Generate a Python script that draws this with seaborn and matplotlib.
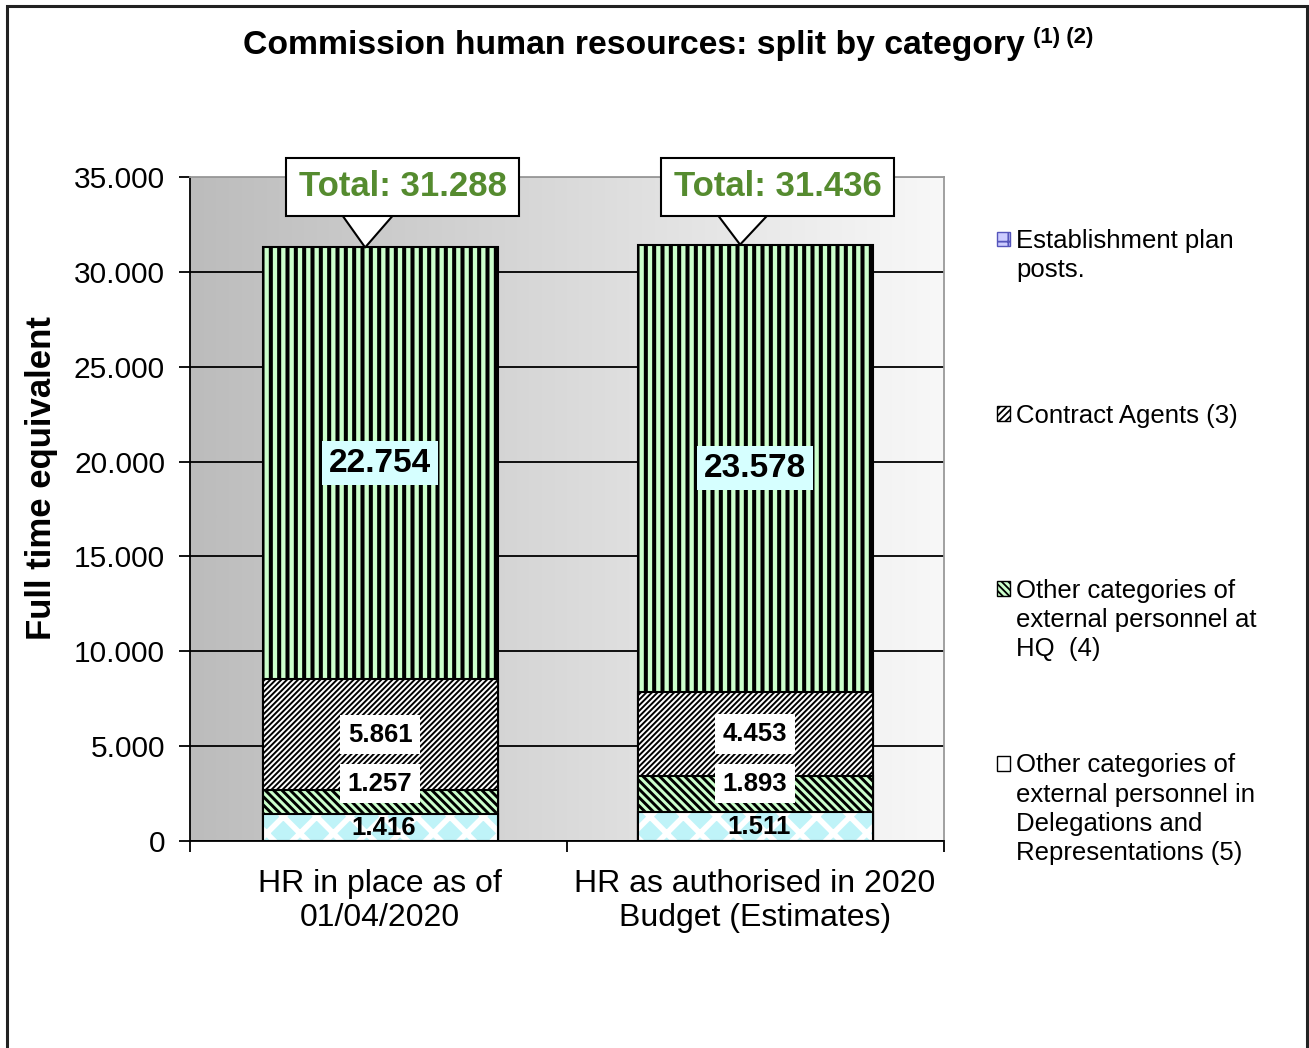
import numpy as np
import pandas as pd
import matplotlib.pyplot as plt
import seaborn as sns
from matplotlib.colors import LinearSegmentedColormap
from matplotlib.patches import Patch, Rectangle
from matplotlib.ticker import FuncFormatter

# data
categories = ["HR in place as of\n01/04/2020", "HR as authorised in 2020\nBudget (Estimates)"]
establishment = [22754, 23578]
contract_agents = [5861, 4453]
external_hq = [1257, 1893]
external_delegations = [1416, 1511]
totals = [31288, 31436]

series_names = [
    "Establishment plan\nposts.",
    "Contract Agents (3)",
    "Other categories of\nexternal personnel at\nHQ  (4)",
    "Other categories of\nexternal personnel in\nDelegations and\nRepresentations (5)",
]
y_ticks = [0, 5000, 10000, 15000, 20000, 25000, 30000, 35000]

sns.set_style("ticks")
plt.rcParams['font.family'] = ['Liberation Sans', 'DejaVu Sans']
plt.rcParams['text.color'] = 'black'
plt.rcParams['axes.labelcolor'] = 'black'
plt.rcParams['xtick.color'] = 'black'
plt.rcParams['ytick.color'] = 'black'


def fmt(v):
    return f"{int(round(v)):,}".replace(",", ".")


df = pd.DataFrame({
    "category": categories,
    "est": establishment,
    "ca": contract_agents,
    "hq": external_hq,
    "dl": external_delegations,
})
# cumulative heights, drawn tallest first so lower layers cover them
df["cum_dl"] = df["dl"]
df["cum_hq"] = df["cum_dl"] + df["hq"]
df["cum_ca"] = df["cum_hq"] + df["ca"]
df["cum_est"] = df["cum_ca"] + df["est"]

fig = plt.figure(figsize=(13.09, 10.48), dpi=100)
ax = fig.add_axes([0.1452, 0.1975, 0.576, 0.6336])

# grey-to-white gradient plot area
grad = np.linspace(0, 1, 256).reshape(1, -1)
cmap = LinearSegmentedColormap.from_list("bg", ["#bcbcbc", "#f8f8f8"])
ax.imshow(grad, cmap=cmap, extent=[0, 1, 0, 1], transform=ax.transAxes,
          aspect='auto', zorder=0)

layers = [
    ("cum_est", "#ccffcc", "black", "||", 2.9),
    ("cum_ca", "white", "black", "//////", 1.4),
    ("cum_hq", "#ccffcc", "black", "\\\\\\\\", 2.1),
    ("cum_dl", "#bff3f8", "white", "x", 4.0),
]
bar_w = 0.627
for col, fc, hc, hatch, hlw in layers:
    plt.rcParams['hatch.linewidth'] = hlw
    n_before = len(ax.patches)
    sns.barplot(data=df, x="category", y=col, color=fc, saturation=1,
                edgecolor=hc, linewidth=1.5, hatch=hatch, width=bar_w,
                ax=ax, zorder=2)
    for p in ax.patches[n_before:]:
        if hasattr(p, "set_hatch_linewidth"):
            p.set_hatch_linewidth(hlw)

# black outline for the bottom (white-hatched) segments
for p in ax.patches[-2:]:
    ax.add_patch(Rectangle(p.get_xy(), p.get_width(), p.get_height(),
                           fill=False, ec='black', lw=1.5, zorder=3))

ax.set_xlim(-0.507, 1.504)
ax.set_ylim(0, 35000)
ax.set_yticks(y_ticks)
ax.yaxis.set_major_formatter(FuncFormatter(lambda v, p: fmt(v)))
ax.set_xticks([0, 1])
ax.set_xticklabels(categories)
ax.set_xticks([-0.507, 0.4985, 1.504], minor=True)
ax.grid(axis='y', color='black', lw=1.3)
ax.yaxis.get_gridlines()[-1].set_color('#999999')
ax.set_axisbelow(True)

ax.tick_params(axis='x', which='major', length=0, pad=20, labelsize=23)
ax.tick_params(axis='x', which='minor', length=8, width=1.3, color='black')
ax.tick_params(axis='y', length=8, width=1.3, color='black', pad=10, labelsize=21.5)
ax.set_xlabel("")
ax.set_ylabel("Full time equivalent", fontsize=25, fontweight='bold')
ax.yaxis.set_label_coords(-0.175, 0.547)

for side in ["left", "bottom"]:
    ax.spines[side].set_color('black')
    ax.spines[side].set_linewidth(1.3)
for side in ["top", "right"]:
    ax.spines[side].set_color('#999999')
    ax.spines[side].set_linewidth(1.3)

# segment value labels
for i in range(len(categories)):
    ax.text(i, df.cum_ca[i] + df.est[i] / 2, fmt(df.est[i]), ha='center', va='center',
            fontsize=24, fontweight='bold', zorder=6,
            bbox=dict(boxstyle='square,pad=0.2', fc='#d6ffff', ec='none'))
    ax.text(i, df.cum_hq[i] + df.ca[i] / 2, fmt(df.ca[i]), ha='center', va='center',
            fontsize=18.5, fontweight='bold', zorder=6,
            bbox=dict(boxstyle='square,pad=0.3', fc='white', ec='none'))
    ax.text(i, 3030, fmt(df.hq[i]), ha='center', va='center',
            fontsize=18.5, fontweight='bold', zorder=6,
            bbox=dict(boxstyle='square,pad=0.3', fc='white', ec='none'))
    ax.text(i + 0.01, df.dl[i] / 2, fmt(df.dl[i]), ha='center', va='center',
            fontsize=18.5, fontweight='bold', zorder=6)

    # total callouts
    ax.annotate(f"Total: {fmt(totals[i])}", xy=(i - 0.04, totals[i]),
                xytext=(i + 0.06, 34480), ha='center', va='center',
                fontsize=25, fontweight='bold', color='#558b2f',
                bbox=dict(boxstyle='square,pad=0.36', fc='white', ec='black', lw=1.5),
                arrowprops=dict(arrowstyle='wedge,tail_width=2.0,shrink_factor=0.5',
                                fc='white', ec='black', lw=1.5, relpos=(0.33, 0.0),
                                patchA=None, shrinkA=0, shrinkB=0),
                annotation_clip=False, zorder=7)

# title with superscript notes
fig.text(0.4843, 0.957, "Commission human resources: split by category",
         ha='center', va='center', fontsize=24.3, fontweight='bold')
fig.text(1033 / 1309, 1 - 38 / 1048, "(1) (2)", ha='left', va='center',
         fontsize=16, fontweight='bold')

# legend: one row per text line so entries sit in even slots like the original
legend_handles = [
    Patch(fc='#ccccff', ec='#5555bb', hatch='+'),
    Patch(fc='white', ec='black', hatch='/////'),
    Patch(fc='#ccffcc', ec='black', hatch='\\\\\\\\\\'),
    Patch(fc='white', ec='black'),
]
blank = Patch(fc='none', ec='none')
rows_h, rows_l = [], []
for k, (name, h) in enumerate(zip(series_names, legend_handles)):
    lines = name.split("\n")
    for j, line in enumerate(lines):
        rows_h.append(h if j == 0 else blank)
        rows_l.append(line)
    if k < len(series_names) - 1:
        for _ in range(6 - len(lines)):
            rows_h.append(blank)
            rows_l.append(" ")
plt.rcParams['hatch.linewidth'] = 1.3
leg = fig.legend(rows_h, rows_l, loc='upper left', bbox_to_anchor=(0.7617, 0.7815),
                 frameon=False, fontsize=18.5, handlelength=0.5, handleheight=0.5,
                 handletextpad=0.25, labelspacing=0.2, borderpad=0, borderaxespad=0)
for lh in leg.legend_handles:
    if hasattr(lh, "set_hatch_linewidth"):
        lh.set_hatch_linewidth(1.3)

# outer frame of the picture
fig.patches.append(Rectangle((7 / 1309, -0.05), 1300 / 1309, 1.05 - 6 / 1048,
                             transform=fig.transFigure, fill=False,
                             ec='#222222', lw=2.2))

fig.savefig("out.png", dpi=100)
